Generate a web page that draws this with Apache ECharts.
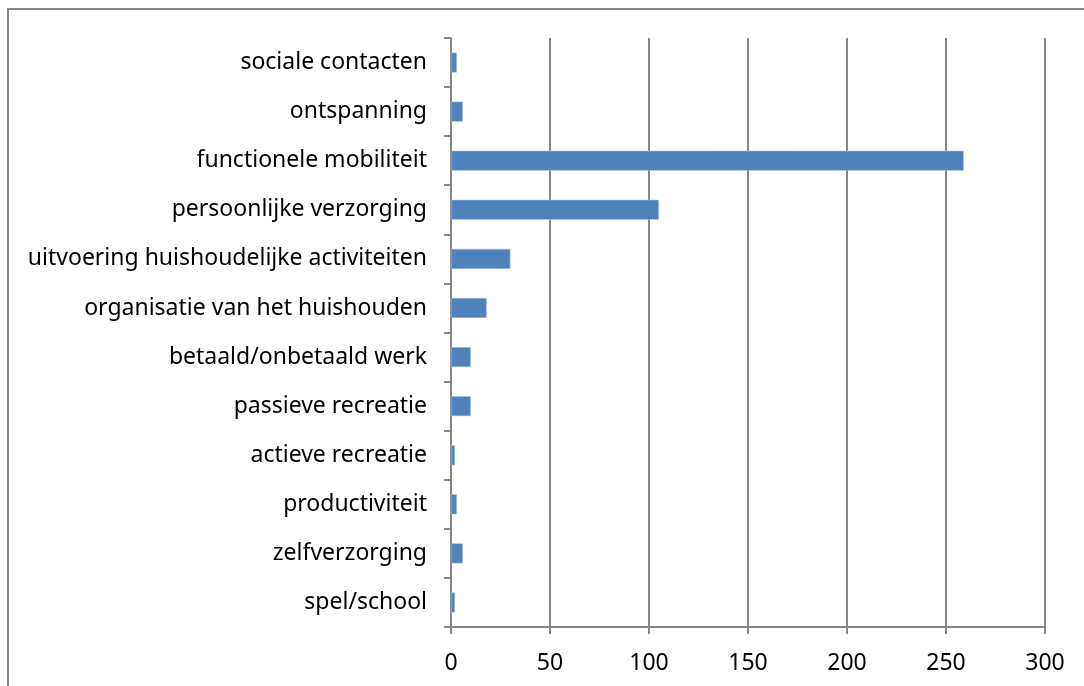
<!DOCTYPE html>
<html>
<head>
<meta charset="utf-8">
<script src="https://cdn.jsdelivr.net/npm/echarts@6/dist/echarts.min.js"></script>
<style>
	html, body { margin: 0; padding: 0; background: #fff; }
	#chart { width: 1084px; height: 686px; }
</style>
</head>
<body>
<div id="chart"></div>
<script>
// categories from bottom to top
const categories = [
	"spel/school",
	"zelfverzorging",
	"productiviteit",
	"actieve recreatie",
	"passieve recreatie",
	"betaald/onbetaald werk",
	"organisatie van het huishouden",
	"uitvoering huishoudelijke activiteiten",
	"persoonlijke verzorging",
	"functionele mobiliteit",
	"ontspanning",
	"sociale contacten"
];
const values = [2, 6, 3, 2, 10, 10, 18, 30, 105, 259, 6, 3];
const xTicks = [0, 50, 100, 150, 200, 250, 300];

const grey = "#868686";
const font = "'Noto Sans', sans-serif";

let myChart = echarts.init(document.getElementById("chart"));
let option = {
	animation: false,
	backgroundColor: "#fff",
	graphic: [
		{
			type: "rect",
			shape: { x: 8, y: 9, width: 1200, height: 800 },
			style: { fill: "none", stroke: grey, lineWidth: 2 }
		}
	],
	grid: { left: 451, right: 39, top: 38, bottom: 59 },
	xAxis: {
		type: "value",
		min: xTicks[0],
		max: xTicks[xTicks.length - 1],
		interval: 50,
		axisLine: { show: true, lineStyle: { color: grey, width: 2 } },
		axisTick: { show: true, length: 7, lineStyle: { color: grey, width: 2 } },
		splitLine: { show: true, lineStyle: { color: grey, width: 2 } },
		axisLabel: { color: "#000", fontSize: 23, fontFamily: font, margin: 25 }
	},
	yAxis: {
		type: "category",
		data: categories,
		axisLine: { show: true, lineStyle: { color: grey, width: 2 } },
		axisTick: { show: true, length: 7, lineStyle: { color: grey, width: 2 } },
		axisLabel: { color: "#000", fontSize: 23, fontFamily: font, margin: 24 }
	},
	series: [
		{
			type: "bar",
			data: values,
			barWidth: 20,
			itemStyle: { color: "#4f81bd", borderColor: "#b9cde5", borderWidth: 0.5 }
		}
	]
};
myChart.setOption(option);
</script>
</body>
</html>
